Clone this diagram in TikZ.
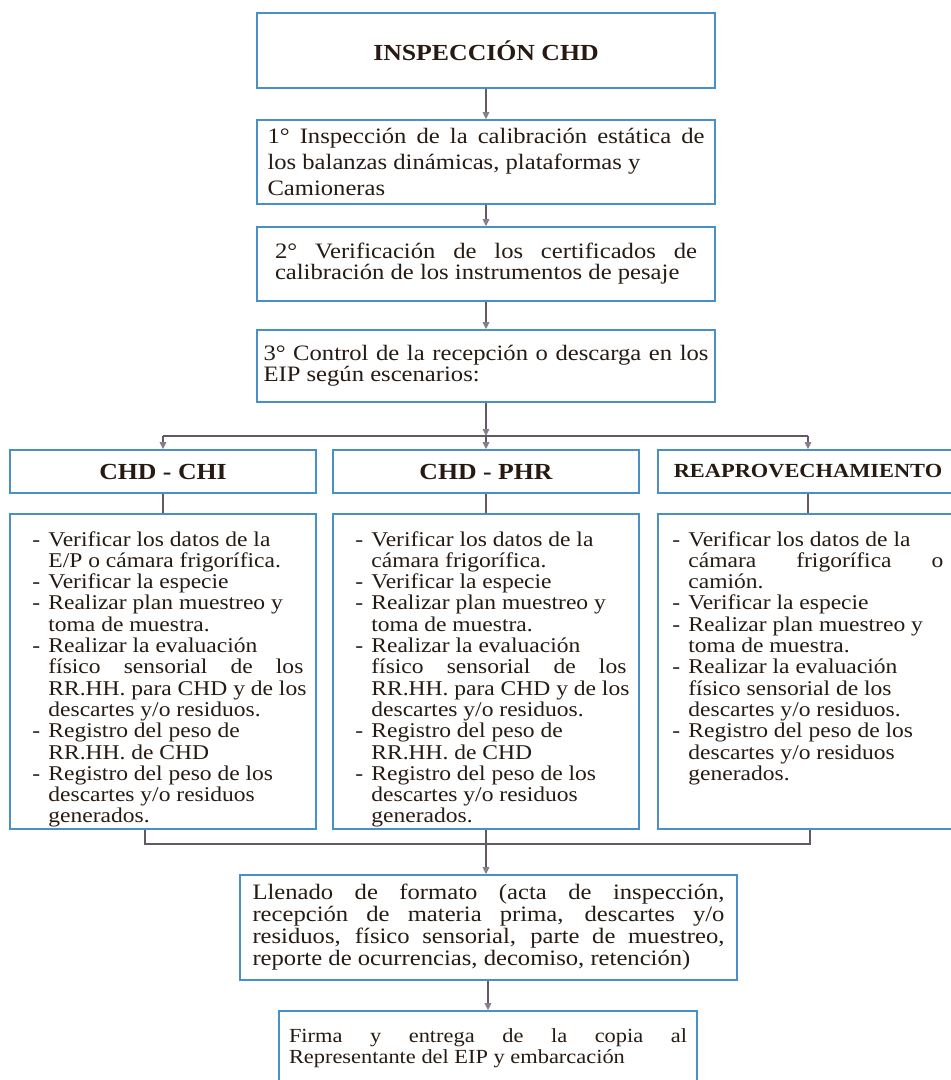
\documentclass[tikz,border=0pt]{standalone}
\usepackage{fontspec}
\setmainfont{Liberation Serif}[FakeStretch=1.12]
\usetikzlibrary{arrows.meta}
\definecolor{boxblue}{RGB}{74,144,200}
\definecolor{linkgray}{RGB}{100,88,98}
\definecolor{tipgray}{RGB}{135,125,140}
\definecolor{inkbrown}{RGB}{38,26,18}
\newcommand{\jline}[2]{\makebox[#1][s]{#2}}
\tikzset{
  stepbox/.style={draw=boxblue, line width=0.8pt, align=left, text=inkbrown, inner sep=0pt},
  headbox/.style={draw=boxblue, line width=0.8pt, minimum width=153pt, minimum height=21.5pt, inner sep=0pt, text=inkbrown, font=\fontsize{11.5}{12}\selectfont\bfseries},
  listbox/.style={draw=boxblue, line width=0.8pt, minimum width=153pt, minimum height=157.5pt, inner sep=0pt},
  listtext/.style={anchor=base west, inner sep=0pt, text=inkbrown, font=\fontsize{10.5}{10.65}\selectfont},
  link/.style={draw=linkgray, line width=0.7pt},
  flow/.style={link, -{Triangle[length=3.5pt,width=3.2pt,color=tipgray]}}
}
\begin{document}
\begin{tikzpicture}[x=0.5pt,y=-0.5pt]
\useasboundingbox (0,0) rectangle (950,1080);
\node[stepbox, minimum width=229pt, minimum height=37.5pt, font=\fontsize{11.5}{13}\selectfont\bfseries] (inspeccion) at (486,50.5) {INSPECCIÓN CHD};
\node[stepbox, minimum width=229pt, minimum height=42pt, font=\fontsize{11}{13}\selectfont] (paso1) at (486,162) {\jline{218.5pt}{1° Inspección de la calibración estática de}\\los balanzas dinámicas, plataformas y\\Camioneras};
\node[stepbox, minimum width=229pt, minimum height=37pt, font=\fontsize{11}{10.5}\selectfont] (paso2) at (486,264) {\jline{211pt}{2° Verificación de los certificados de}\\calibración de los instrumentos de pesaje};
\node[stepbox, minimum width=229pt, minimum height=36pt, font=\fontsize{11}{10.5}\selectfont] (paso3) at (486,366) {\jline{222.5pt}{3° Control de la recepción o descarga en los}\\EIP según escenarios:};
\node[headbox] (chiHead) at (163,471.5) {CHD - CHI};
\node[headbox] (phrHead) at (486,471.5) {CHD - PHR};
\node[headbox, minimum width=150pt, font=\fontsize{10}{12}\selectfont\bfseries] (reapHead) at (808,471.5) {REAPROVECHAMIENTO};
\node[listbox] (chiBody) at (163,671.5) {};
\node[listbox] (phrBody) at (486,671.5) {};
\node[listbox, minimum width=150pt] (reapBody) at (808,671.5) {};
\node[listtext] (chiList) at (32,546) {\begin{tabular}[t]{@{}p{8pt}@{}l@{}}
- & Verificar los datos de la\\
  & E/P o cámara frigorífica.\\
- & Verificar la especie\\
- & Realizar plan muestreo y\\
  & toma de muestra.\\
- & Realizar la evaluación\\
  & \jline{127.5pt}{físico sensorial de los}\\
  & RR.HH. para CHD y de los\\
  & descartes y/o residuos.\\
- & Registro del peso de\\
  & RR.HH. de CHD\\
- & Registro del peso de los\\
  & descartes y/o residuos\\
  & generados.
\end{tabular}};
\node[listtext] (phrList) at (355,546) {\begin{tabular}[t]{@{}p{8pt}@{}l@{}}
- & Verificar los datos de la\\
  & cámara frigorífica.\\
- & Verificar la especie\\
- & Realizar plan muestreo y\\
  & toma de muestra.\\
- & Realizar la evaluación\\
  & \jline{127.5pt}{físico sensorial de los}\\
  & RR.HH. para CHD y de los\\
  & descartes y/o residuos.\\
- & Registro del peso de\\
  & RR.HH. de CHD\\
- & Registro del peso de los\\
  & descartes y/o residuos\\
  & generados.
\end{tabular}};
\node[listtext] (reapList) at (672,546) {\begin{tabular}[t]{@{}p{8pt}@{}l@{}}
- & Verificar los datos de la\\
  & \jline{127.5pt}{cámara frigorífica o}\\
  & camión.\\
- & Verificar la especie\\
- & Realizar plan muestreo y\\
  & toma de muestra.\\
- & Realizar la evaluación\\
  & físico sensorial de los\\
  & descartes y/o residuos.\\
- & Registro del peso de los\\
  & descartes y/o residuos\\
  & generados.
\end{tabular}};
\node[stepbox, minimum width=248.5pt, minimum height=52.5pt, font=\fontsize{11}{11}\selectfont] (llenado) at (488.5,927.5) {\jline{236pt}{Llenado de formato (acta de inspección,}\\\jline{236pt}{recepción de materia prima, descartes y/o}\\\jline{236pt}{residuos, físico sensorial, parte de muestreo,}\\reporte de ocurrencias, decomiso, retención)};
\node[stepbox, minimum width=209pt, minimum height=37pt, font=\fontsize{10}{10.5}\selectfont] (firma) at (488,1048) {\jline{199pt}{Firma y entrega de la copia al}\\Representante del EIP y embarcación};
\coordinate (split) at (486,436);
\coordinate (joinL) at (145,844);
\coordinate (joinR) at (810,844);
\draw[flow] (inspeccion.south) -- (paso1.north);
\draw[flow] (paso1.south) -- (paso2.north);
\draw[flow] (paso2.south) -- (paso3.north);
\draw[flow] (paso3.south) -- (split);
\draw[link] (chiHead.north |- split) -- (reapHead.north |- split);
\draw[flow] (chiHead.north |- split) -- (chiHead.north);
\draw[flow] (split) -- (phrHead.north);
\draw[flow] (reapHead.north |- split) -- (reapHead.north);
\draw[link] (chiHead.south) -- (chiBody.north);
\draw[link] (phrHead.south) -- (phrBody.north);
\draw[link] (reapHead.south) -- (reapBody.north);
\draw[link] (chiBody.south -| joinL) -- (joinL) -- (joinR) -- (reapBody.south -| joinR);
\draw[flow] (phrBody.south) -- (phrBody.south |- llenado.north);
\draw[flow] (llenado.south -| firma.north) -- (firma.north);
\end{tikzpicture}
\end{document}
